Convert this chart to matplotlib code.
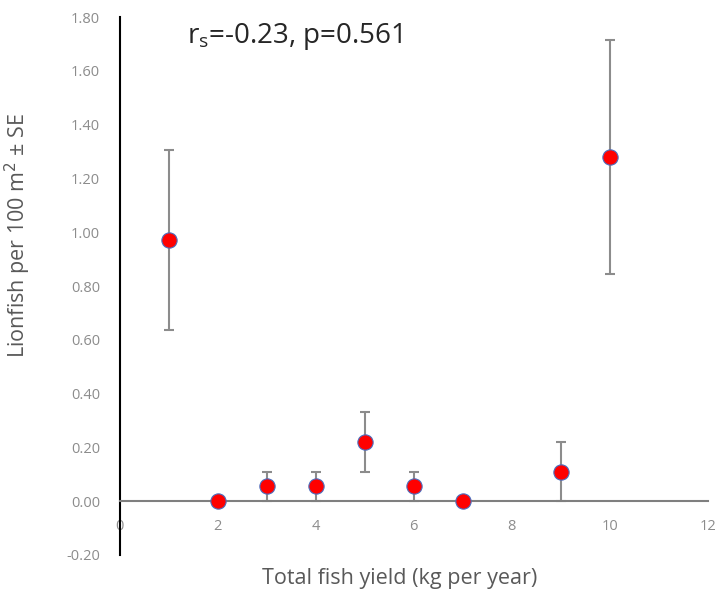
import matplotlib
matplotlib.use('Agg')
import matplotlib.pyplot as plt

# data
yield_kg = [1, 2, 3, 4, 5, 6, 7, 9, 10]
lionfish = [0.97, 0.0, 0.055, 0.055, 0.22, 0.055, 0.0, 0.11, 1.28]
se = [0.335, 0.0, 0.055, 0.055, 0.11, 0.055, 0.0, 0.11, 0.435]

yticks = [-0.2, 0.0, 0.2, 0.4, 0.6, 0.8, 1.0, 1.2, 1.4, 1.6, 1.8]
xticks = [0, 2, 4, 6, 8, 10, 12]

plt.rcParams['font.family'] = ['Open Sans', 'DejaVu Sans']

figure = plt.figure(figsize=(7.17, 5.99), dpi=100)
axes = figure.add_axes([0.167, 0.0735, 0.820, 0.898])

axes.errorbar(yield_kg, lionfish, yerr=se, fmt='none', ecolor='#8c8c8c',
              elinewidth=1.5, capsize=3.5, capthick=1.5, zorder=2)
axes.plot(yield_kg, lionfish, 'o', color='#ff0000', markersize=11,
          markeredgecolor='#4a6fc0', markeredgewidth=0.8, zorder=3)

axes.set_xlim(0, 12)
axes.set_ylim(-0.2, 1.8)
axes.set_xticks(xticks)
axes.set_yticks(yticks)
axes.set_yticklabels(['%.2f' % v for v in yticks])

for side in ['top', 'right']:
  axes.spines[side].set_visible(False)
axes.spines['bottom'].set_position(('data', 0))
axes.spines['bottom'].set_color('#7f7f7f')
axes.spines['bottom'].set_linewidth(1.5)
axes.spines['left'].set_color('black')
axes.spines['left'].set_linewidth(1.5)

axes.tick_params(axis='both', length=0, colors='#8c8c8c', labelsize=10.5)
axes.tick_params(axis='x', pad=13)
axes.tick_params(axis='y', pad=14)

axes.set_xlabel('Total fish yield (kg per year)', fontsize=15.5, color='#595959')
axes.xaxis.set_label_coords(0.476, -0.024)
axes.set_ylabel('Lionfish per 100 m$^2$ ± SE', fontsize=15.5, color='#595959')
axes.yaxis.set_label_coords(-0.148, 0.593)

axes.text(0.115, 0.992, r'r$_\mathregular{s}$=-0.23, p=0.561', transform=axes.transAxes,
          fontsize=20, color='#262626', va='top', ha='left')

figure.savefig('out.png', dpi=100)
